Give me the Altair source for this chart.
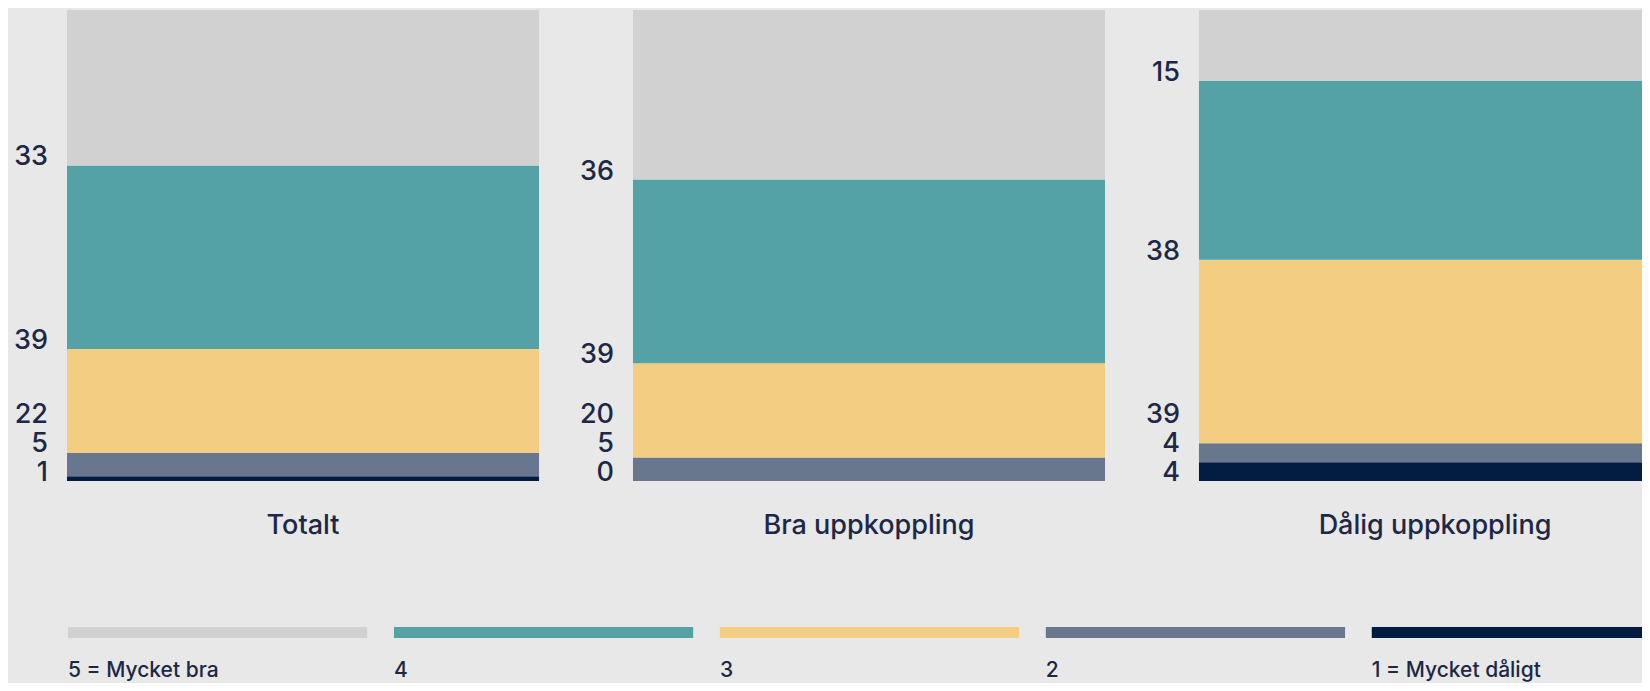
import altair as alt
import pandas as pd

groups = ["Totalt", "Bra uppkoppling", "Dålig uppkoppling"]
ratings = ["5 = Mycket bra", "4", "3", "2", "1 = Mycket dåligt"]
colors = ["#d1d1d1", "#54a1a6", "#f3ce82", "#68778d", "#021b40"]
values = {
    "Totalt": [33, 39, 22, 5, 1],
    "Bra uppkoppling": [36, 39, 20, 5, 0],
    "Dålig uppkoppling": [15, 38, 39, 4, 4],
}
LABEL_GAP = 6.2  # minimum spacing between value labels, in percent units

rows = []
for g in groups:
    vals = values[g]
    # walk from the bottom segment (rating 1) upwards
    cum = 0.0
    prev = None
    for idx in range(len(ratings) - 1, -1, -1):
        v = vals[idx]
        pos = cum if prev is None else max(cum, prev + LABEL_GAP)
        rows.append({
            "group": g,
            "rating": ratings[idx],
            "order": len(ratings) - idx,
            "value": v,
            "labelpos": pos,
            "label": str(v),
        })
        prev = pos
        cum += v
df = pd.DataFrame(rows)
leg_df = pd.DataFrame({"rating": ratings})

TEXT = "#1d2746"
FONT = "Inter"

color_enc = alt.Color("rating:N", scale=alt.Scale(domain=ratings, range=colors), legend=None)

xscale = alt.Scale(paddingInner=0.166, paddingOuter=0, range=[0, 1604])
xenc = alt.X("group:N", sort=groups, scale=xscale,
             axis=alt.Axis(title=None, domain=False, ticks=False, labelAngle=0,
                           labelFontSize=27, labelFontWeight=500, labelColor=TEXT,
                           labelFont=FONT, labelBaseline="alphabetic", labelPadding=52,
                           labelLimit=0))

bars = alt.Chart(df).mark_bar().encode(
    x=xenc,
    y=alt.Y("value:Q", stack="zero", scale=alt.Scale(domain=[0, 100], nice=False), axis=None),
    color=color_enc,
    order=alt.Order("order:Q", sort="ascending"),
)

labels = alt.Chart(df).mark_text(align="right", baseline="alphabetic", dx=-19,
                                 fontSize=27, fontWeight=500, font=FONT, color=TEXT).encode(
    x=alt.X("group:N", sort=groups, bandPosition=0, scale=xscale),
    y=alt.Y("labelpos:Q", scale=alt.Scale(domain=[0, 100], nice=False), axis=None),
    text="label:N",
)

leg_scale = alt.Scale(paddingInner=0.082, paddingOuter=0, range=[1, 1604])
leg_bars = alt.Chart(leg_df).mark_bar().encode(
    x=alt.X("rating:N", sort=ratings, scale=leg_scale, axis=None),
    y=alt.value(617), y2=alt.value(628),
    color=color_enc,
)
leg_text = alt.Chart(leg_df).mark_text(align="left", baseline="alphabetic", fontSize=21,
                                      fontWeight=500, font=FONT, color=TEXT).encode(
    x=alt.X("rating:N", sort=ratings, bandPosition=0, scale=leg_scale, axis=None),
    y=alt.value(667),
    text="rating:N",
)

main = alt.layer(bars, labels).resolve_scale(x="shared", y="shared")
legend = alt.layer(leg_bars, leg_text)

chart = alt.layer(main, legend).resolve_scale(x="independent").properties(
    width=1575, height=471,
    autosize=alt.AutoSizeParams(type="none"),
    padding={"left": 59, "top": 2, "right": 0, "bottom": 202},
).configure(background="#e8e8e8").configure_view(stroke=None)

chart.save("out.html", embed_options={"renderer": "svg", "actions": False})
